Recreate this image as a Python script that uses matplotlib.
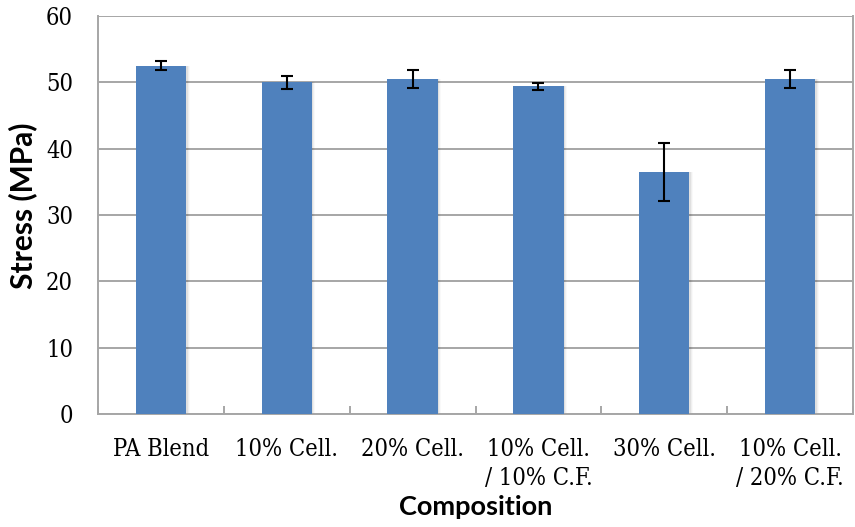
import matplotlib
matplotlib.use("Agg")
import matplotlib.pyplot as plt
from matplotlib import font_manager
import numpy as np

categories = ["PA Blend", "10% Cell.", "20% Cell.", "10% Cell.\n/ 10% C.F.",
              "30% Cell.", "10% Cell.\n/ 20% C.F."]
stress = [52.5, 50.0, 50.5, 49.4, 36.5, 50.5]
stress_err = [0.7, 1.0, 1.4, 0.5, 4.4, 1.35]
y_ticks = [0, 10, 20, 30, 40, 50, 60]

bar_color = "#4f81bd"
grid_color = "#a6a6a6"

W, H = 855, 527
L, R, T, B = 98, 853, 16, 414
fig = plt.figure(figsize=(W / 100, H / 100), dpi=100)
ax = fig.add_axes([L / W, 1 - B / H, (R - L) / W, (B - T) / H])

x = np.arange(len(categories))
# soft drop shadow behind each bar
for dx, a in [(0.012, 0.06), (0.02, 0.04), (0.028, 0.025)]:
    ax.bar(x + dx, stress, width=0.4, color="#000000", alpha=a, zorder=2)
ax.bar(x, stress, width=0.4, color=bar_color, zorder=3)
ax.errorbar(x, stress, yerr=stress_err, fmt="none", ecolor="black",
            elinewidth=1.5, capsize=4.5, capthick=1.5, zorder=4)

ax.set_xlim(-0.5, len(categories) - 0.5)
ax.set_ylim(0, 60)
ax.set_yticks(y_ticks)
ax.yaxis.grid(True, color=grid_color, linewidth=1.4, zorder=0)
ax.set_axisbelow(True)

ax.spines["top"].set_visible(False)
for side in ["left", "bottom", "right"]:
    ax.spines[side].set_color(grid_color)
    ax.spines[side].set_linewidth(1.4)

tick_font = font_manager.FontProperties(family=["DejaVu Serif"],
                                        stretch="condensed", size=17)
ax.set_xticks(x)
ax.set_xticklabels(categories, fontproperties=tick_font, linespacing=1.35)
ax.set_xticks(np.arange(-0.5, len(categories)), minor=True)
ax.tick_params(axis="x", which="major", length=0, pad=17)
ax.tick_params(axis="x", which="minor", direction="in", length=6,
               color=grid_color, width=1.4)
ax.tick_params(axis="y", length=0, pad=18)
for lbl in ax.get_yticklabels():
    lbl.set_fontproperties(tick_font)

label_font = ["Lato", "DejaVu Sans"]
ax.set_xlabel("Composition", fontfamily=label_font, fontweight="bold",
              fontsize=19.5, va="baseline")
ax.xaxis.set_label_coords(0.5, (B - 515) / (B - T))
ax.set_ylabel("Stress (MPa)", fontfamily=label_font, fontweight="bold",
              fontsize=21.5, va="center")
ax.yaxis.set_label_coords((23 - L) / (R - L), (B - 206) / (B - T))

fig.savefig("out.png", dpi=100)
